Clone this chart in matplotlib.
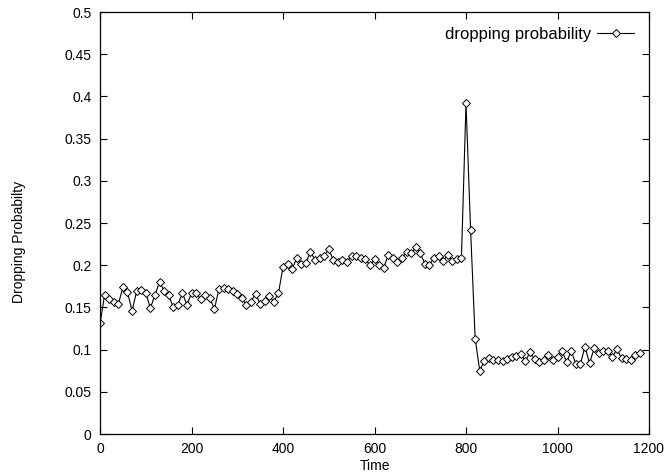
import numpy as np
import matplotlib
matplotlib.use("Agg")
from matplotlib import pyplot as plt

plt.rcParams['font.family'] = ['Liberation Sans', 'DejaVu Sans']

time = np.arange(0, 1190, 10)
prob = [
    0.131, 0.165, 0.160, 0.157, 0.154, 0.174, 0.168, 0.146, 0.169, 0.171,
    0.167, 0.149, 0.165, 0.180, 0.170, 0.165, 0.150, 0.153, 0.167, 0.153,
    0.167, 0.167, 0.160, 0.165, 0.161, 0.148, 0.172, 0.173, 0.172, 0.170,
    0.166, 0.161, 0.153, 0.157, 0.166, 0.154, 0.158, 0.163, 0.157, 0.167,
    0.198, 0.202, 0.196, 0.208, 0.201, 0.203, 0.216, 0.206, 0.208, 0.211,
    0.219, 0.206, 0.204, 0.206, 0.204, 0.211, 0.211, 0.209, 0.207, 0.200,
    0.207, 0.200, 0.197, 0.212, 0.208, 0.204, 0.208, 0.216, 0.214, 0.221,
    0.214, 0.202, 0.200, 0.209, 0.211, 0.205, 0.212, 0.205, 0.207, 0.209,
    0.392, 0.242, 0.113, 0.075, 0.087, 0.090, 0.088, 0.088, 0.087, 0.089,
    0.091, 0.093, 0.095, 0.086, 0.0975, 0.0885, 0.0857, 0.0877, 0.0936, 0.0877,
    0.0909, 0.0987, 0.085, 0.0987, 0.083, 0.083, 0.1034, 0.0837, 0.1015, 0.0963,
    0.0987, 0.0987, 0.0916, 0.1003, 0.0897, 0.0885, 0.0877, 0.0936, 0.0956,
]

fig = plt.figure(figsize=(6.67, 4.75), dpi=100)
ax = fig.add_axes([0.15, 0.0863, 0.823, 0.8884])

ax.plot(time, prob, color='black', linewidth=0.8, marker='D', markersize=4,
        markerfacecolor='white', markeredgecolor='black', markeredgewidth=0.7,
        label='dropping probability')

ax.set_xlim(0, 1200)
ax.set_ylim(0, 0.5)
ax.set_xticks(np.arange(0, 1201, 200))
ax.set_yticks(np.arange(0, 0.501, 0.05))
ax.set_yticklabels(['0', '0.05', '0.1', '0.15', '0.2', '0.25', '0.3', '0.35', '0.4', '0.45', '0.5'])
ax.tick_params(direction='in', top=True, right=True, length=5, width=0.8, labelsize=10, pad=6)
for s in ax.spines.values():
    s.set_linewidth(0.9)

ax.set_xlabel('Time', fontsize=10, labelpad=2)
ax.set_ylabel('Dropping Probabilty', fontsize=10)
ax.yaxis.set_label_coords(-0.135, 0.455)

ax.legend(loc='upper right', frameon=False, markerfirst=False, fontsize=12,
          handlelength=2.2, handletextpad=0.35, borderaxespad=0.5)

plt.savefig('out.png', dpi=100)
